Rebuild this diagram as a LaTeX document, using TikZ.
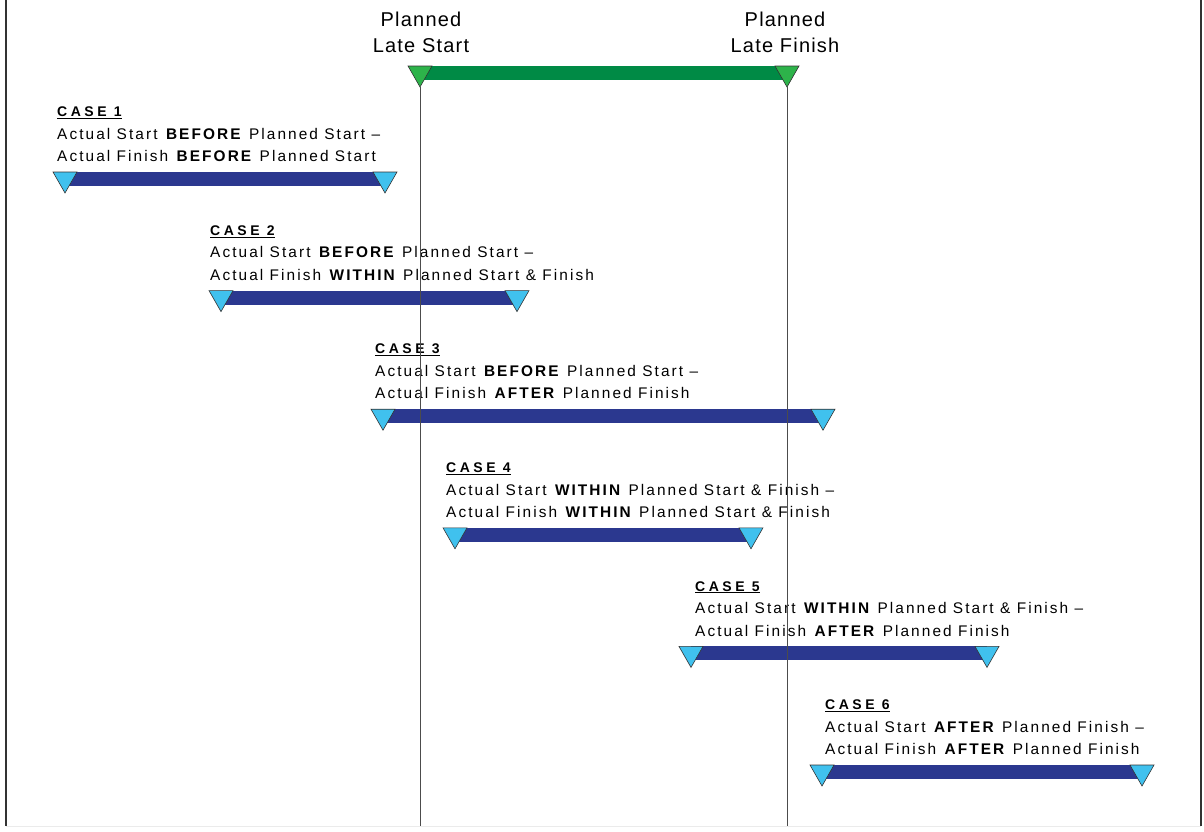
\documentclass[tikz,border=0pt]{standalone}
\usepackage{fontspec}
\setmainfont{Liberation Sans}
\newfontfamily\bodyfont{Liberation Sans}[LetterSpace=13.5]
\newfontfamily\casefont{Liberation Sans}[LetterSpace=25]
\newfontfamily\hdrfont{Liberation Sans}[LetterSpace=6]
\definecolor{barblue}{HTML}{2B388F}
\definecolor{tricyan}{HTML}{40C1EE}
\definecolor{bargreen}{HTML}{008A45}
\definecolor{trigreen}{HTML}{2DB34A}
\definecolor{edge}{HTML}{333333}
\tikzset{
  hdr/.style={font=\hdrfont\fontsize{20}{26.7}\selectfont, align=center, anchor=base, inner sep=0pt},
  casehead/.style={font=\casefont\bfseries\fontsize{14}{16}\selectfont, anchor=base west, inner sep=0pt},
  caseline/.style={font=\bodyfont\fontsize{15.4}{18}\selectfont, anchor=base west, inner sep=0pt},
  bluebar/.style={fill=barblue},
  greenbar/.style={fill=bargreen},
  bluetri/.style={fill=tricyan, draw=edge, line width=0.6pt, line join=miter},
  greentri/.style={fill=trigreen, draw=edge, line width=0.6pt},
  border/.style={draw=edge, line width=1.6pt},
  guide/.style={draw=black!70, line width=0.9pt},
}
\newcommand{\actbar}[4]{% name, x1, x2, ytop
  \fill[bluebar] (#2,#4) rectangle (#3,#4+14);
  \filldraw[bluetri] (#2-12,#4) -- (#2+12,#4) -- (#2,#4+21) -- cycle;
  \filldraw[bluetri] (#3-12,#4) -- (#3+12,#4) -- (#3,#4+21) -- cycle;
  \coordinate (#1s) at (#2,#4+21);
  \coordinate (#1f) at (#3,#4+21);
}
\newcommand{\casetext}[6]{% idx, x, ytop, head, line a, line b
  \node[casehead] (h#1) at (#2,#3-55.3) {\underline{#4}};
  \node[caseline] (a#1) at (#2,#3-32.7) {#5};
  \node[caseline] (b#1) at (#2,#3-10.3) {#6};
}
\begin{document}
\begin{tikzpicture}[x=1pt,y=-1pt]
\useasboundingbox (0,0) rectangle (1204,831);
\fill[white] (0,0) rectangle (1204,831);
% frame
\coordinate (tl) at (6,0);
\coordinate (bl) at (6,826);
\coordinate (tr) at (1201,0);
\coordinate (br) at (1201,826);
\draw[border] (tl) -- (bl);
\draw[border] (tr) -- (br);
\draw[draw=black!8, line width=1pt] (bl) -- (br);
% header
\node[hdr] (ps) at (421,52.7) {Planned\\Late Start};
\node[hdr] (pf) at (785,52.7) {Planned\\Late Finish};
% planned bar
\fill[greenbar] (420,66) rectangle (787,80);
\filldraw[greentri] (408,66) -- (432,66) -- (420,87) -- cycle;
\filldraw[greentri] (775,66) -- (799,66) -- (787,87) -- cycle;
\coordinate (gs) at (420,87);
\coordinate (gf) at (787,87);
\coordinate (gsb) at (420,826);
\coordinate (gfb) at (787,826);
% cases
\casetext{1}{57}{172}{CASE 1}{Actual Start \textbf{BEFORE} Planned Start –}{Actual Finish \textbf{BEFORE} Planned Start}
\actbar{c1}{65}{385}{172}
\casetext{2}{210}{290.6}{CASE 2}{Actual Start \textbf{BEFORE} Planned Start –}{Actual Finish \textbf{WITHIN} Planned Start \& Finish}
\actbar{c2}{221}{517}{290.6}
\casetext{3}{375}{409.2}{CASE 3}{Actual Start \textbf{BEFORE} Planned Start –}{Actual Finish \textbf{AFTER} Planned Finish}
\actbar{c3}{383}{823}{409.2}
\casetext{4}{446}{527.8}{CASE 4}{Actual Start \textbf{WITHIN} Planned Start \& Finish –}{Actual Finish \textbf{WITHIN} Planned Start \& Finish}
\actbar{c4}{455}{751}{527.8}
\casetext{5}{695}{646.4}{CASE 5}{Actual Start \textbf{WITHIN} Planned Start \& Finish –}{Actual Finish \textbf{AFTER} Planned Finish}
\actbar{c5}{691}{987}{646.4}
\casetext{6}{825}{765}{CASE 6}{Actual Start \textbf{AFTER} Planned Finish –}{Actual Finish \textbf{AFTER} Planned Finish}
\actbar{c6}{822}{1142}{765}
% guide lines
\draw[guide] (gs) -- (gsb);
\draw[guide] (gf) -- (gfb);
\end{tikzpicture}
\end{document}
